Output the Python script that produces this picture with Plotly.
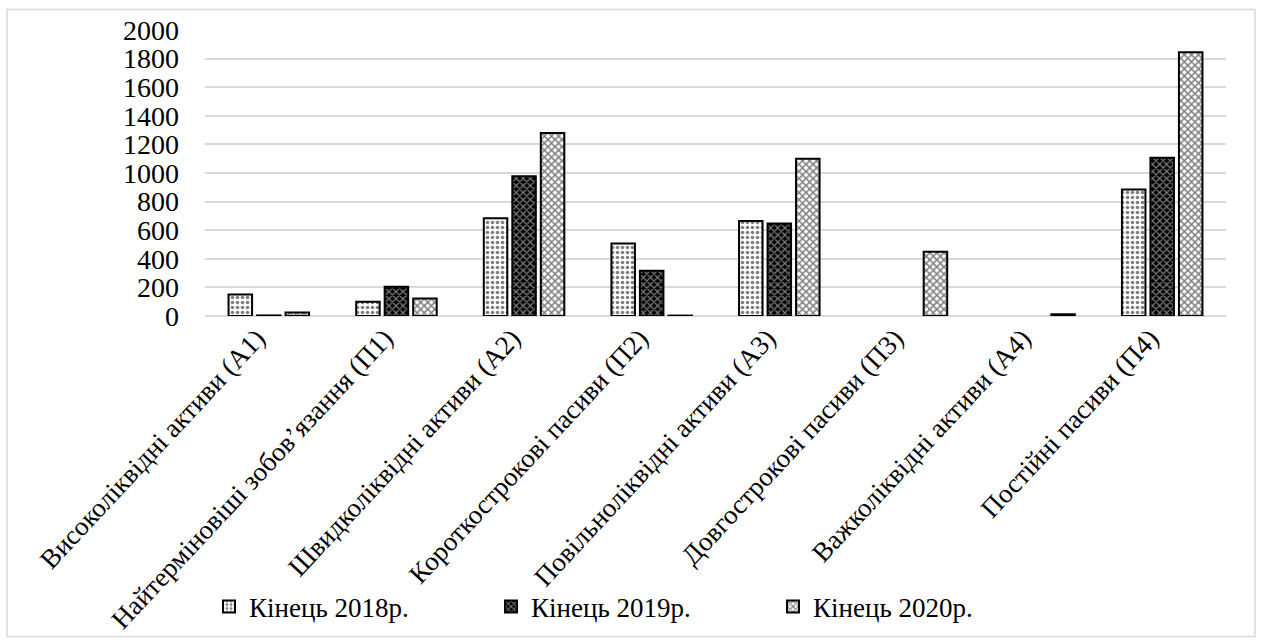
import plotly.graph_objects as go

# Liquidity groups of balance-sheet items (assets A1..A4, liabilities П1..П4)
categories = [
    "Високоліквідні активи (А1)",
    "Найтерміновіші зобов’язання (П1)",
    "Швидколіквідні активи (А2)",
    "Короткострокові пасиви (П2)",
    "Повільноліквідні активи (А3)",
    "Довгострокові пасиви (П3)",
    "Важколіквідні активи (А4)",
    "Постійні пасиви (П4)",
]
series_names = ["Кінець 2018р.", "Кінець 2019р.", "Кінець 2020р."]
values_2018 = [150, 100, 684, 507, 665, None, None, 884]
values_2019 = [4, 205, 977, 317, 647, None, None, 1107]
values_2020 = [25, 122, 1280, 3, 1100, 449, 12, 1845]
y_ticks = [0, 200, 400, 600, 800, 1000, 1200, 1400, 1600, 1800, 2000]

FONT = "Liberation Serif"

patterns = [
    dict(shape=".", fgcolor="black", bgcolor="white", size=5, solidity=0.4),
    dict(shape="x", fgcolor="white", bgcolor="black", size=5, solidity=0.42),
    dict(shape="x", fgcolor="black", bgcolor="white", size=5, solidity=0.5),
]

fig = go.Figure()
for name, vals, pat in zip(series_names, [values_2018, values_2019, values_2020], patterns):
    fig.add_trace(go.Bar(
        name=name,
        x=categories,
        y=vals,
        marker=dict(color="white", pattern=pat, line=dict(color="black", width=2)),
    ))

# plot area in pixels
W, H = 1261, 644
L, R, T, B = 205, 1226, 29.5, 316.5

def px_x(p):
    return (p - L) / (R - L)

def px_y(p):
    return (B - p) / (B - T)

fig.update_layout(
    width=W,
    height=H,
    margin=dict(l=L, r=W - R, t=T, b=H - B, autoexpand=False),
    paper_bgcolor="white",
    plot_bgcolor="white",
    font=dict(family=FONT, color="black", size=27),
    barmode="group",
    bargap=0.33,
    bargroupgap=0.175,
    showlegend=True,
    legend=dict(
        orientation="h",
        x=px_x(632),
        xanchor="center",
        yref="container",
        y=1 - 607 / H,
        yanchor="middle",
        font=dict(family=FONT, size=27, color="black"),
        entrywidth=237,
        entrywidthmode="pixels",
        itemwidth=30,
        bgcolor="rgba(0,0,0,0)",
    ),
    xaxis=dict(
        type="category",
        tickangle=-47,
        tickfont=dict(family=FONT, size=27, color="black"),
        showgrid=False,
        showline=False,
        ticks="",
        ticklen=0,
        ticklabelshift=-12,
        automargin=False,
    ),
    yaxis=dict(
        range=[0, 2000],
        tickvals=y_ticks,
        tickfont=dict(family=FONT, size=28, color="black"),
        showgrid=True,
        gridcolor="#d9d9d9",
        gridwidth=1.5,
        zeroline=True,
        zerolinecolor="#d9d9d9",
        zerolinewidth=1.5,
        showline=False,
        ticks="",
        ticklen=0,
        ticklabelstandoff=25,
        automargin=False,
    ),
    shapes=[
        dict(
            type="rect",
            xref="paper",
            yref="paper",
            x0=px_x(7),
            x1=px_x(1255),
            y0=px_y(638),
            y1=px_y(9),
            line=dict(color="#d9d9d9", width=1.5),
            fillcolor="rgba(0,0,0,0)",
            layer="below",
        )
    ],
)

fig.write_html("out.html")
